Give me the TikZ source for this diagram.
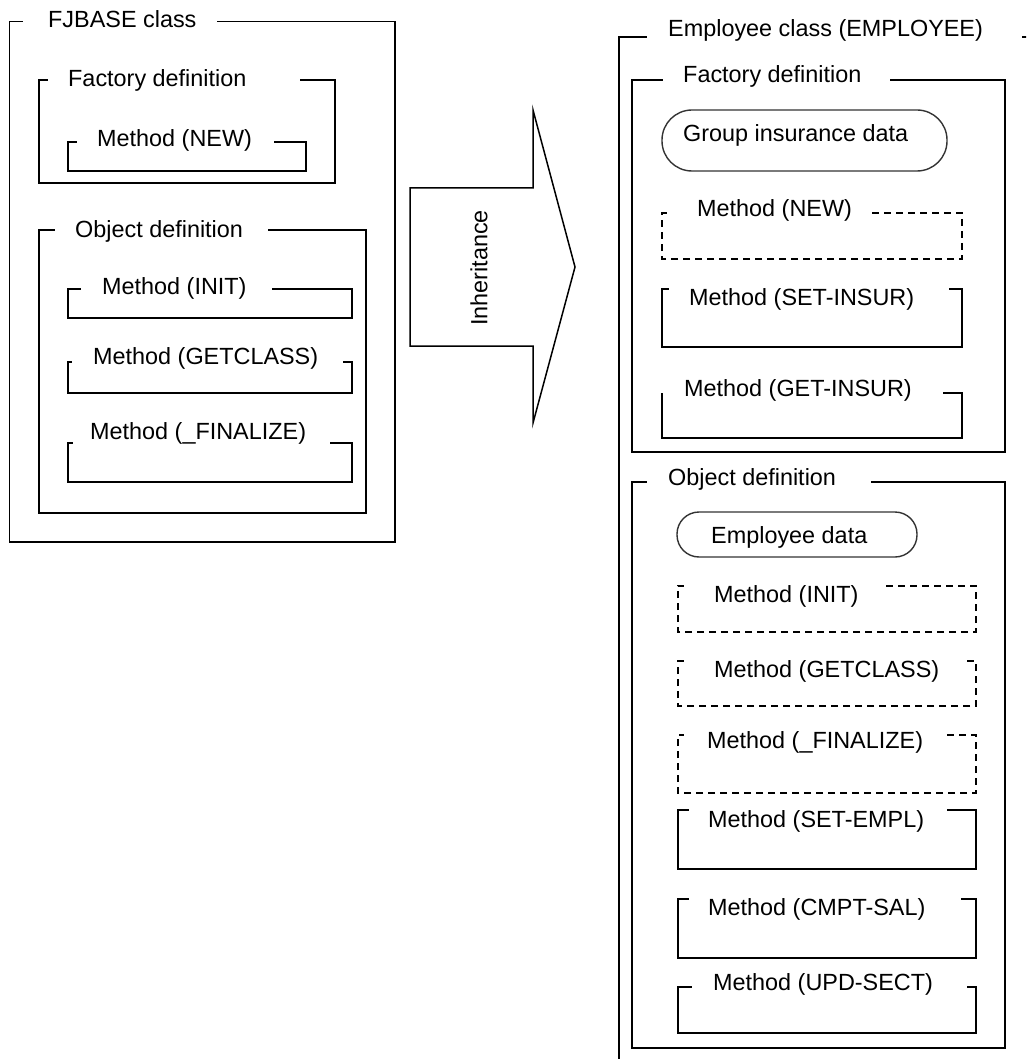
\documentclass[tikz,border=0pt]{standalone}
\usepackage{fontspec}
\setmainfont{Liberation Sans}
\usepackage{tikz}

\begin{document}
\begin{tikzpicture}[x=1pt, y=-1pt, font=\fontsize{23.4}{28}\selectfont]
	\tikzstyle{frame}=[draw=black, line width=1.8pt]
	\tikzstyle{inherited}=[frame, dash pattern=on 7pt off 5pt]
	\tikzstyle{boxtext}=[anchor=base west, inner sep=0pt]
	\tikzstyle{data}=[draw=black!80, line width=1.4pt, inner sep=0pt]

	\clip (0,0) rectangle (1026,1059);

	% FJBASE class
	\draw[frame] (217,21.5) -| (395,542) -| (9.5,21.5) -- (23,21.5);
	\node[boxtext] (fjbase) at (48,28) {FJBASE class};

	% FJBASE: definitions and methods
	\foreach \nm/\xa/\ya/\xb/\yb/\ga/\gb/\tx/\ty/\txt in {
		fact_l/39/80/335/183/48/300/68/87/{Factory definition},
		new_l/68/142/306/171/77/274/97/147/{Method (NEW)},
		obj_l/39/230/366/513/55/268/75/237/{Object definition},
		init_l/68/289/352/318/81/272/102/294/{Method (INIT)},
		getclass_l/68/362/352/393/72/343/93/364/{Method (GETCLASS)},
		final_l/68/443/352/482/73/330/90/439/{Method (\_FINALIZE)}}
	{
		\draw[frame] (\gb,\ya) -| (\xb,\yb) -| (\xa,\ya) -- (\ga,\ya);
		\node[boxtext] (\nm) at (\tx,\ty) {\txt};
	}

	% Inheritance arrow
	\draw[line width=1.5pt] (410,188) -- (533,188) -- (533,110) -- (575,267)
		-- (533,423) -- (533,346) -- (410,346) -- cycle;
	\node[rotate=90, inner sep=0pt] (inherit) at (479,268) {Inheritance};

	% Employee class: own definitions and methods
	\foreach \nm/\xa/\ya/\xb/\yb/\ga/\gb/\tx/\ty/\txt in {
		emp/619/37/1040/1075/647/1022/668/37/{Employee class (EMPLOYEE)},
		fact_r/632/80/1005/452/663/890/683/83/{Factory definition},
		setinsur/662/289/962/347/669/949/689/305/{Method (SET-INSUR)},
		getinsur/662/393/962/438/662/943/684/396/{Method (GET-INSUR)},
		obj_r/632/482/1005/1048/647/871/668/485/{Object definition},
		setempl/678/810/976/869/689/947/708/827/{Method (SET-EMPL)},
		cmptsal/678/899/976/958/689/961/708/915/{Method (CMPT-SAL)},
		updsect/678/987/976/1033/692/967/713/990/{Method (UPD-SECT)}}
	{
		\draw[frame] (\gb,\ya) -| (\xb,\yb) -| (\xa,\ya) -- (\ga,\ya);
		\node[boxtext] (\nm) at (\tx,\ty) {\txt};
	}

	% Employee class: inherited methods
	\foreach \nm/\xa/\ya/\xb/\yb/\ga/\gb/\tx/\ty/\txt in {
		new_r/662/213/962/259/670/872/697/217/{Method (NEW)},
		init_r/678/586/976/632/684/886/714/602/{Method (INIT)},
		getclass_r/678/661/976/706/684/967/714/677/{Method (GETCLASS)},
		final_r/678/735/976/793/684/947/707/748/{Method (\_FINALIZE)}}
	{
		\draw[inherited] (\gb,\ya) -| (\xb,\yb) -| (\xa,\ya) -- (\ga,\ya);
		\node[boxtext] (\nm) at (\tx,\ty) {\txt};
	}

	% Data
	\node[data, minimum width=285pt, minimum height=61pt, rounded corners=30pt] (grpins) at (804.5,140.5) {};
	\node[boxtext] (grpins_txt) at (683,142) {Group insurance data};
	\node[data, minimum width=240pt, minimum height=45pt, rounded corners=22pt] (empdata) at (797,534.5) {};
	\node[boxtext] (empdata_txt) at (711,543) {Employee data};
\end{tikzpicture}
\end{document}
